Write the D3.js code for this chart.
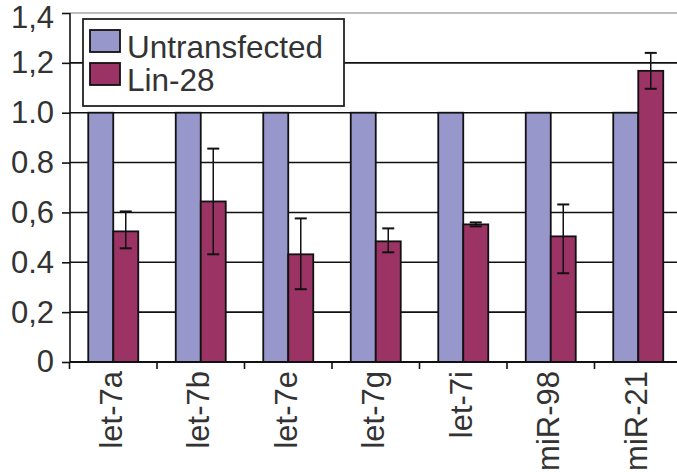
<!DOCTYPE html>
<html>
<head>
<meta charset="utf-8">
<script src="https://cdn.jsdelivr.net/npm/d3@7"></script>
<style>
  body { margin: 0; background: #fff; }
  svg { display: block; font-family: "Liberation Sans", Arial, sans-serif; }
</style>
</head>
<body>
<svg width="677" height="472"></svg>
<script>
// data
const categories = ["let-7a", "let-7b", "let-7e", "let-7g", "let-7i", "miR-98", "miR-21"];
const series = ["Untransfected", "Lin-28"];
const untransfected = [1, 1, 1, 1, 1, 1, 1];
const lin28 = [0.524, 0.644, 0.432, 0.484, 0.552, 0.504, 1.168];
const lin28ErrHi = [0.604, 0.856, 0.576, 0.536, 0.56, 0.632, 1.24];
const lin28ErrLo = [0.456, 0.432, 0.292, 0.44, 0.544, 0.356, 1.096];
const yTicks = [0, 0.2, 0.4, 0.6, 0.8, 1.0, 1.2, 1.4];
const yTickLabels = ["0", "0,2", "0.4", "0,6", "0.8", "1.0", "1,2", "1,4"];

const colors = {"Untransfected": "#9797cb", "Lin-28": "#9b3365"};

let svg = d3.select("svg");

let y = d3.scaleLinear().domain([0, 1.4]).range([362, 13]);
let x0 = d3.scaleBand().domain(categories).range([69.5, 682]);
let x1 = d3.scaleBand().domain(series).range([0, x0.bandwidth()]).paddingOuter(0.75);

//###############################################
// grid
//###############################################
svg.append("g").selectAll("line")
  .data(yTicks.filter(d => d > 0))
  .enter().append("line")
    .attr("x1", 70).attr("x2", 677)
    .attr("y1", d => y(d)).attr("y2", d => y(d))
    .attr("stroke", d => d === 1.4 ? "#a8a8a8" : "#111")
    .attr("stroke-width", 1.6);

//###############################################
// bars
//###############################################
let rows = categories.map((c, i) => ({
  cat: c,
  vals: [
    {s: "Untransfected", v: untransfected[i]},
    {s: "Lin-28", v: lin28[i], hi: lin28ErrHi[i], lo: lin28ErrLo[i]}
  ]
}));

let group = svg.append("g").selectAll("g")
  .data(rows)
  .enter().append("g")
    .attr("transform", d => "translate(" + x0(d.cat) + ",0)");

group.selectAll("rect")
  .data(d => d.vals)
  .enter().append("rect")
    .attr("x", d => x1(d.s))
    .attr("width", x1.bandwidth())
    .attr("y", d => y(d.v))
    .attr("height", d => y(0) - y(d.v))
    .attr("fill", d => colors[d.s])
    .attr("stroke", "#111")
    .attr("stroke-width", 1.8);

// error bars
let err = group.append("g")
  .datum(d => d.vals[1])
  .attr("stroke", "#111");

err.append("line")
  .attr("x1", d => x1(d.s) + x1.bandwidth() / 2)
  .attr("x2", d => x1(d.s) + x1.bandwidth() / 2)
  .attr("y1", d => y(d.hi)).attr("y2", d => y(d.lo))
  .attr("stroke-width", 1.5);

err.selectAll("line.cap")
  .data(d => [d.hi, d.lo].map(v => ({v: v, cx: x1(d.s) + x1.bandwidth() / 2})))
  .enter().append("line")
    .attr("class", "cap")
    .attr("x1", d => d.cx - 6).attr("x2", d => d.cx + 6)
    .attr("y1", d => y(d.v)).attr("y2", d => y(d.v))
    .attr("stroke-width", 2);

//###############################################
// axes
//###############################################
let yAxis = d3.axisLeft(y)
  .tickValues(yTicks)
  .tickFormat((d, i) => yTickLabels[i])
  .tickSize(8)
  .tickPadding(8);

let gy = svg.append("g")
  .attr("transform", "translate(70,0)")
  .call(yAxis);
gy.select(".domain").attr("stroke", "#111").attr("stroke-width", 1.6).attr("d", "M0," + y(1.4) + "V" + y(0));
gy.selectAll(".tick line").attr("stroke", "#111").attr("stroke-width", 1.6);
gy.selectAll(".tick text")
  .attr("font-size", 31)
  .attr("fill", "#333")
  .attr("font-family", "Liberation Sans, Arial, sans-serif")
  .attr("dy", (d) => d === 1.4 ? "0.46em" : "0.32em");

let xAxis = d3.axisBottom(x0).tickSize(0).tickPadding(0);
let gx = svg.append("g")
  .attr("transform", "translate(0," + y(0) + ")")
  .call(xAxis);
gx.select(".domain").attr("stroke", "#111").attr("stroke-width", 1.8).attr("d", "M70,0H677");
gx.selectAll(".tick text")
  .attr("font-size", 31)
  .attr("fill", "#333")
  .attr("font-family", "Liberation Sans, Arial, sans-serif")
  .attr("text-anchor", "end")
  .attr("dy", null)
  .attr("y", 0)
  .attr("transform", "translate(-2,9) rotate(-90)")
  .attr("dominant-baseline", "central");

// tick marks between categories
gx.append("g").selectAll("line")
  .data(categories)
  .enter().append("line")
    .attr("x1", d => x0(d)).attr("x2", d => x0(d))
    .attr("y1", 0).attr("y2", 7)
    .attr("stroke", "#111").attr("stroke-width", 1.6);

//###############################################
// legend
//###############################################
let legend = svg.append("g");
legend.append("rect")
  .attr("x", 83).attr("y", 19).attr("width", 261).attr("height", 87)
  .attr("fill", "#fff").attr("stroke", "#222").attr("stroke-width", 1.8);

let item = legend.selectAll("g")
  .data(series)
  .enter().append("g")
    .attr("transform", (d, i) => "translate(90," + (30 + i * 33) + ")");

item.append("rect")
  .attr("width", 30).attr("height", 22)
  .attr("fill", d => colors[d])
  .attr("stroke", "#111").attr("stroke-width", 1.8);

item.append("text")
  .attr("x", 37).attr("y", 28)
  .attr("font-size", 31.5)
  .attr("fill", "#333")
  .text(d => d);
</script>
</body>
</html>
